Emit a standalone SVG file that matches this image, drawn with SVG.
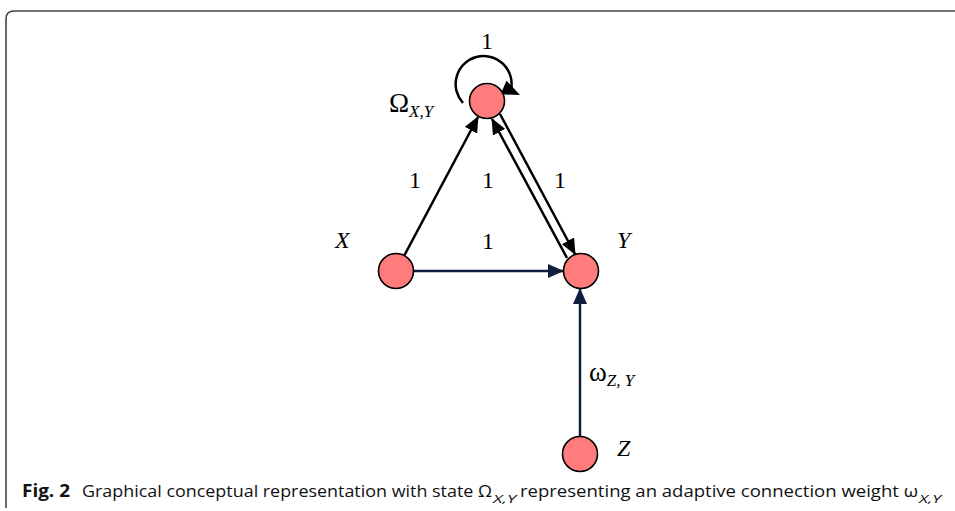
<svg xmlns="http://www.w3.org/2000/svg" width="955" height="511" viewBox="0 0 955 511">
<style>
.node{fill:#ff7c7c;stroke:#000;stroke-width:1.6}
.lbl{font-family:"Liberation Serif",serif;font-size:24px;fill:#000}
.big{font-size:27px}
.it{font-style:italic}
.sub{font-family:"Liberation Serif",serif;font-style:italic;font-size:17px}
.blk{stroke:#000;stroke-width:2.5;fill:none}
.nav{stroke:#0f1e40;stroke-width:2.5;fill:none}
.cap{font-family:"Open Sans","Noto Sans",sans-serif;font-size:17px;fill:#111}
.capb{font-family:"Open Sans","Noto Sans",sans-serif;font-size:17px;font-weight:bold;fill:#111}
.capsub{font-family:"Open Sans","Noto Sans",sans-serif;font-style:italic;font-size:11px;fill:#111}
</style>
<defs>
<marker id="ab" markerUnits="userSpaceOnUse" markerWidth="16" markerHeight="14" refX="15" refY="7" orient="auto">
<path d="M0,0 L16,7 L0,14 Z" fill="#000"/>
</marker>
<marker id="an" markerUnits="userSpaceOnUse" markerWidth="16" markerHeight="14" refX="15" refY="7" orient="auto">
<path d="M0,0 L16,7 L0,14 Z" fill="#0f1e40"/>
</marker>
</defs>
<path d="M6,508 L6,19 Q6,11 14,11 L955,11" fill="none" stroke="#444" stroke-width="1.6"/>
<g id="connectors">
<path class="blk" d="M404,256 L478,117" marker-end="url(#ab)"/>
<path class="nav" d="M414,271 L563,271" marker-end="url(#an)"/>
<path class="blk" d="M500,114 L575,254" marker-end="url(#ab)"/>
<path class="blk" d="M567,258 L492,119" marker-end="url(#ab)"/>
<path class="nav" d="M580,437 L580,289" marker-end="url(#an)"/>
<path class="blk" d="M463,103 A28,28 0 1 1 511,90"/>
<path d="M520,95 L500.6,94.3 L506.5,80.7 Z" fill="#000"/>
</g>
<g id="node-omega">
<circle class="node" cx="487" cy="101" r="17.5"/>
<text class="lbl big" x="389" y="112">Ω<tspan class="sub" dy="5">X,Y</tspan></text>
</g>
<g id="node-x">
<circle class="node" cx="396" cy="271" r="17.5"/>
<text class="lbl it" x="335" y="248">X</text>
</g>
<g id="node-y">
<circle class="node" cx="581" cy="271" r="17.5"/>
<text class="lbl it" x="617" y="248">Y</text>
</g>
<g id="node-z">
<circle class="node" cx="580" cy="454" r="17.5"/>
<text class="lbl it" x="617" y="456">Z</text>
</g>
<g id="labels">
<text class="lbl" x="487" y="49" text-anchor="middle">1</text>
<text class="lbl" x="415" y="188" text-anchor="middle">1</text>
<text class="lbl" x="488" y="188" text-anchor="middle">1</text>
<text class="lbl" x="560" y="188" text-anchor="middle">1</text>
<text class="lbl" x="488" y="249" text-anchor="middle">1</text>
<text class="lbl big" x="589" y="381">ω<tspan class="sub" dy="5">Z, Y</tspan></text>
</g>
<g id="caption">
<text class="capb" x="22" y="497" textLength="48" lengthAdjust="spacingAndGlyphs">Fig. 2</text>
<text class="cap" x="82" y="497" textLength="410" lengthAdjust="spacingAndGlyphs">Graphical conceptual representation with state Ω</text>
<text class="capsub" x="493" y="503" textLength="23" lengthAdjust="spacingAndGlyphs">X,Y</text>
<text class="cap" x="520" y="497" textLength="398" lengthAdjust="spacingAndGlyphs">representing an adaptive connection weight ω</text>
<text class="capsub" x="919" y="503" textLength="22" lengthAdjust="spacingAndGlyphs">X,Y</text>
</g>
</svg>
